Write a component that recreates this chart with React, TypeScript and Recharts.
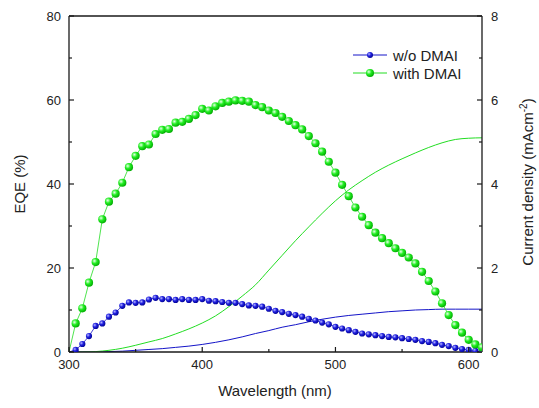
import {
  ComposedChart,
  Legend,
  Line,
  ReferenceLine,
  XAxis,
  YAxis,
} from "recharts";

const wavelengths = [
  300, 305, 310, 315, 320, 325, 330, 335, 340, 345, 350, 355, 360, 365, 370, 375,
  380, 385, 390, 395, 400, 405, 410, 415, 420, 425, 430, 435, 440, 445, 450, 455,
  460, 465, 470, 475, 480, 485, 490, 495, 500, 505, 510, 515, 520, 525, 530, 535,
  540, 545, 550, 555, 560, 565, 570, 575, 580, 585, 590, 595, 600, 605, 610,
];

const eqeWithout = [
  0, 0.5, 1.9, 3.8, 6.2, 6.8, 8.4, 9.4, 11.0, 11.8, 11.7, 11.8, 12.5, 12.9, 12.6, 12.6,
  12.4, 12.6, 12.4, 12.4, 12.6, 12.2, 12.1, 11.9, 11.7, 11.7, 11.4, 11.1, 11.0, 10.8, 10.3, 9.8,
  9.5, 9.1, 8.8, 8.4, 7.9, 7.5, 7.0, 6.6, 6.0, 5.6, 5.2, 4.8, 4.4, 4.2, 4.0, 3.8,
  3.6, 3.5, 3.3, 3.1, 2.9, 2.6, 2.4, 2.1, 1.7, 1.4, 1.0, 0.7, 0.5, 0.3, 0.1,
];

const eqeWith = [
  0, 6.8, 10.4, 16.5, 21.4, 31.6, 35.8, 37.7, 40.3, 44.0, 46.7, 49.0, 49.4, 51.9, 52.9, 53.1,
  54.6, 54.8, 55.5, 56.4, 57.9, 57.5, 58.5, 59.3, 59.6, 59.9, 59.8, 59.6, 58.8, 58.3, 57.5, 56.9,
  56.0, 55.0, 54.0, 53.0, 51.4, 49.7, 47.7, 45.3, 42.7, 39.8, 37.1, 34.4, 32.2, 30.2, 28.4, 27.1,
  25.9, 24.7, 23.6, 22.5, 21.1, 19.1, 16.9, 14.4, 11.6, 8.8, 6.4, 4.6, 2.9, 1.8, 1.1,
];

// integrated current density, mA/cm2
const jWavelengths = [
  300, 310, 320, 330, 340, 350, 360, 370, 380, 390, 400, 410, 420, 430, 440, 450,
  460, 470, 480, 490, 500, 510, 520, 530, 540, 550, 560, 570, 580, 590, 600, 610,
];
const jWithout = [
  0, 0, 0, 0.01, 0.02, 0.04, 0.06, 0.08, 0.11, 0.14, 0.18, 0.23, 0.29, 0.36, 0.44, 0.51,
  0.59, 0.65, 0.72, 0.78, 0.83, 0.87, 0.9, 0.93, 0.96, 0.98, 1.0, 1.01, 1.02, 1.02, 1.02, 1.02,
];
const jWith = [
  0, 0, 0.01, 0.04, 0.09, 0.16, 0.24, 0.32, 0.43, 0.55, 0.69, 0.86, 1.08, 1.33, 1.6, 1.95,
  2.3, 2.65, 2.98, 3.3, 3.6, 3.86, 4.08, 4.28, 4.45, 4.6, 4.74, 4.87, 4.98, 5.06, 5.09, 5.1,
];

const seriesNames = ["w/o DMAI", "with DMAI"];
const xTicks = [300, 350, 400, 450, 500, 550, 600];
const xLabeled = [300, 400, 500, 600];
const leftTicks = [0, 10, 20, 30, 40, 50, 60, 70, 80];
const leftLabeled = [0, 20, 40, 60, 80];
const rightTicks = [0, 1, 2, 3, 4, 5, 6, 7, 8];
const rightLabeled = [0, 2, 4, 6, 8];

const eqeRows = wavelengths.map((w, i) => ({ w, without: eqeWithout[i], with: eqeWith[i] }));
const jRowsWithout = jWavelengths.map((w, i) => ({ w, j: jWithout[i] }));
const jRowsWith = jWavelengths.map((w, i) => ({ w, j: jWith[i] }));

const FONT = "'Liberation Sans', Arial, sans-serif";
const AXIS = "#1a1a1a";
const BLUE = "#1414c8";
const GREEN = "#22dd22";

const ballDot = (r: number, gid: string) => (props: any) => {
  const { cx, cy, index, payload } = props;
  if (cx == null || cy == null || payload.w === 300) return <g key={index} />;
  return <circle key={index} cx={cx} cy={cy} r={r} fill={`url(#${gid})`} />;
};

const XTick = (props: any) => {
  const { x, y, payload } = props;
  const major = xLabeled.includes(payload.value);
  return (
    <g>
      <line x1={x} x2={x} y1={y} y2={y - (major ? 5 : 3)} stroke={AXIS} strokeWidth={1.2} />
      {major && (
        <text x={x} y={y + 17} textAnchor="middle" fontSize={13} fontFamily={FONT} fill="#222">
          {payload.value}
        </text>
      )}
    </g>
  );
};

const LeftTick = (props: any) => {
  const { x, y, payload } = props;
  const major = leftLabeled.includes(payload.value);
  return (
    <g>
      <line x1={x} x2={x + (major ? 5 : 3)} y1={y} y2={y} stroke={AXIS} strokeWidth={1.2} />
      {major && (
        <text x={x - 8} y={y + 4.5} textAnchor="end" fontSize={13} fontFamily={FONT} fill="#222">
          {payload.value}
        </text>
      )}
    </g>
  );
};

const RightTick = (props: any) => {
  const { x, y, payload } = props;
  const major = rightLabeled.includes(payload.value);
  return (
    <g>
      <line x1={x} x2={x - (major ? 5 : 3)} y1={y} y2={y} stroke={AXIS} strokeWidth={1.2} />
      {major && (
        <text x={x + 9} y={y + 4.5} textAnchor="start" fontSize={13} fontFamily={FONT} fill="#222">
          {payload.value}
        </text>
      )}
    </g>
  );
};

const LegendBox = () => (
  <svg width={140} height={40} style={{ display: "block" }}>
    <defs>
      <radialGradient id="lgBlue" cx="35%" cy="35%" r="70%">
        <stop offset="0%" stopColor="#b8b8ff" />
        <stop offset="45%" stopColor="#2020e0" />
        <stop offset="100%" stopColor="#000090" />
      </radialGradient>
      <radialGradient id="lgGreen" cx="35%" cy="35%" r="70%">
        <stop offset="0%" stopColor="#e8ffe8" />
        <stop offset="45%" stopColor="#22ee22" />
        <stop offset="100%" stopColor="#00a800" />
      </radialGradient>
    </defs>
    <line x1={3} x2={37} y1={9} y2={9} stroke={BLUE} strokeWidth={1} />
    <circle cx={20} cy={9} r={3} fill="url(#lgBlue)" />
    <text x={43} y={14.5} fontSize={15} fontFamily={FONT} fill="#222">
      {seriesNames[0]}
    </text>
    <line x1={3} x2={37} y1={27} y2={27} stroke={GREEN} strokeWidth={1} />
    <circle cx={20} cy={27} r={4} fill="url(#lgGreen)" />
    <text x={43} y={32.5} fontSize={15} fontFamily={FONT} fill="#222">
      {seriesNames[1]}
    </text>
  </svg>
);

export default function App() {
  return (
    <div style={{ position: "absolute", left: 0, top: 0, background: "#fff" }}>
      <ComposedChart
        width={539}
        height={408}
        data={eqeRows}
        margin={{ top: 16, right: 0, bottom: 0, left: 0 }}
      >
        <defs>
          <radialGradient id="ballBlue" cx="35%" cy="35%" r="70%">
            <stop offset="0%" stopColor="#b8b8ff" />
            <stop offset="45%" stopColor="#2020e0" />
            <stop offset="100%" stopColor="#000090" />
          </radialGradient>
          <radialGradient id="ballGreen" cx="35%" cy="35%" r="70%">
            <stop offset="0%" stopColor="#e8ffe8" />
            <stop offset="45%" stopColor="#22ee22" />
            <stop offset="100%" stopColor="#00a800" />
          </radialGradient>
        </defs>
        <XAxis
          dataKey="w"
          type="number"
          domain={[300, 610]}
          ticks={xTicks}
          allowDataOverflow
          height={56}
          tickSize={0}
          tickMargin={0}
          tickLine={false}
          tick={<XTick />}
          axisLine={{ stroke: AXIS, strokeWidth: 1.3 }}
          label={() => (
            <text x={275} y={396} textAnchor="middle" fontSize={15} fontFamily={FONT} fill="#222">
              Wavelength (nm)
            </text>
          )}
        />
        <YAxis
          yAxisId="left"
          domain={[0, 80]}
          ticks={leftTicks}
          allowDataOverflow
          width={69}
          tickSize={0}
          tickMargin={0}
          tickLine={false}
          tick={<LeftTick />}
          axisLine={{ stroke: AXIS, strokeWidth: 1.3 }}
          label={() => (
            <text
              x={25}
              y={184}
              transform="rotate(-90 25 184)"
              textAnchor="middle"
              fontSize={15}
              fontFamily={FONT}
              fill="#222"
            >
              EQE (%)
            </text>
          )}
        />
        <YAxis
          yAxisId="right"
          orientation="right"
          domain={[0, 8]}
          ticks={rightTicks}
          allowDataOverflow
          width={57}
          tickSize={0}
          tickMargin={0}
          tickLine={false}
          tick={<RightTick />}
          axisLine={{ stroke: AXIS, strokeWidth: 1.3 }}
          label={() => (
            <text
              x={533}
              y={182}
              transform="rotate(-90 533 182)"
              textAnchor="middle"
              fontSize={15}
              fontFamily={FONT}
              fill="#222"
            >
              Current density (mAcm
              <tspan fontSize={10} dy={-6}>-2</tspan>
              <tspan dy={6}>)</tspan>
            </text>
          )}
        />
        <ReferenceLine yAxisId="left" y={80} stroke={AXIS} strokeWidth={1.3} />
        <Legend
          layout="vertical"
          align="center"
          verticalAlign="middle"
          content={() => <LegendBox />}
          wrapperStyle={{ position: "absolute", left: 350, top: 46, width: 140 }}
        />
        <Line
          yAxisId="right"
          data={jRowsWithout}
          dataKey="j"
          type="monotone"
          stroke={BLUE}
          strokeWidth={1}
          dot={false}
          activeDot={false}
          legendType="none"
          isAnimationActive={false}
        />
        <Line
          yAxisId="right"
          data={jRowsWith}
          dataKey="j"
          type="monotone"
          stroke={GREEN}
          strokeWidth={1}
          dot={false}
          activeDot={false}
          legendType="none"
          isAnimationActive={false}
        />
        <Line
          yAxisId="left"
          dataKey="without"
          name={seriesNames[0]}
          type="linear"
          stroke={BLUE}
          strokeWidth={0.8}
          dot={ballDot(3.1, "ballBlue")}
          activeDot={false}
          isAnimationActive={false}
        />
        <Line
          yAxisId="left"
          dataKey="with"
          name={seriesNames[1]}
          type="linear"
          stroke={GREEN}
          strokeWidth={0.8}
          dot={ballDot(4.1, "ballGreen")}
          activeDot={false}
          isAnimationActive={false}
        />
      </ComposedChart>
    </div>
  );
}
